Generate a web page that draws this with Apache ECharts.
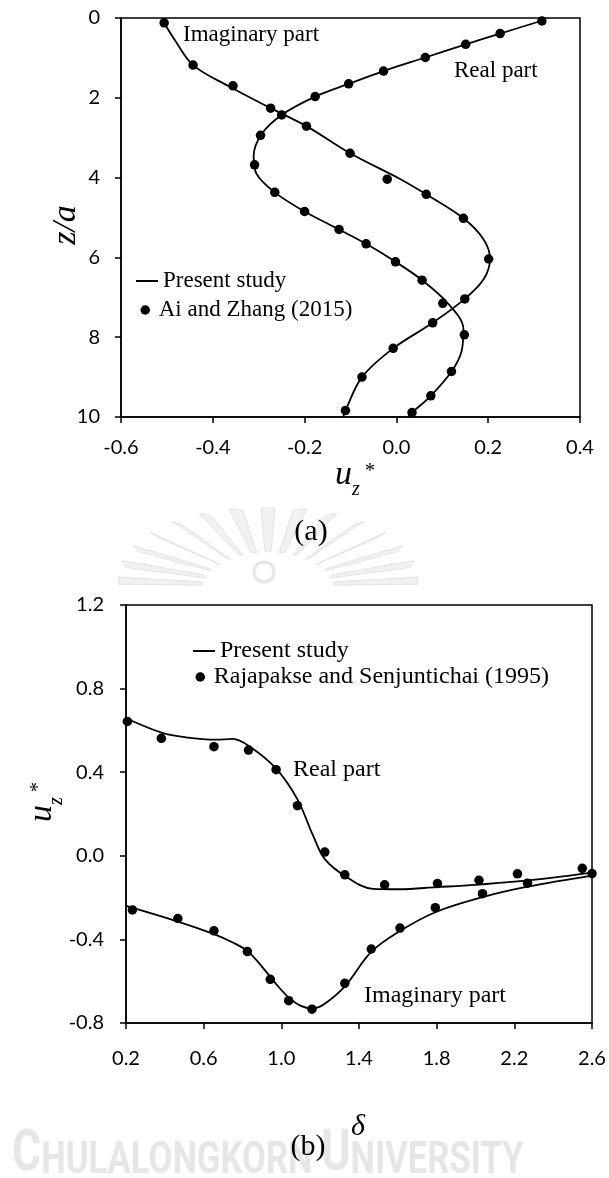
<!DOCTYPE html>
<html>
<head>
<meta charset="utf-8">
<script src="https://cdn.jsdelivr.net/npm/echarts@6/dist/echarts.min.js"></script>
<style>
  html, body { margin: 0; padding: 0; background: #fff; }
  #chart { width: 609px; height: 1178px; }
</style>
</head>
<body>
<div id="chart"></div>
<script>
// (a) vertical displacement along depth, points are [u_z*, z/a]
const aRealCurve = [
  [0.322, 0.05], [0.226, 0.39], [0.151, 0.66], [0.063, 0.99], [-0.028, 1.33],
  [-0.104, 1.65], [-0.177, 1.97], [-0.25, 2.43], [-0.293, 2.9], [-0.311, 3.45],
  [-0.305, 3.9], [-0.265, 4.37], [-0.2, 4.85], [-0.125, 5.3], [-0.066, 5.66],
  [-0.002, 6.11], [0.056, 6.57], [0.112, 7.15], [0.146, 7.8], [0.142, 8.35],
  [0.12, 8.86], [0.075, 9.47], [0.034, 9.89], [0.025, 10]
];
const aImagCurve = [
  [-0.51, 0.05], [-0.48, 0.6], [-0.443, 1.18], [-0.367, 1.7], [-0.274, 2.26],
  [-0.196, 2.71], [-0.101, 3.39], [0.009, 4.04], [0.065, 4.42], [0.146, 5.02],
  [0.19, 5.55], [0.204, 6.04], [0.19, 6.55], [0.149, 7.04], [0.079, 7.64],
  [-0.007, 8.28], [-0.075, 9.0], [-0.111, 9.84], [-0.116, 10]
];
const aRealRef = [
  [0.317, 0.075], [0.226, 0.39], [0.151, 0.66], [0.063, 0.99], [-0.028, 1.33],
  [-0.104, 1.65], [-0.177, 1.97], [-0.25, 2.43], [-0.296, 2.94], [-0.309, 3.68],
  [-0.265, 4.37], [-0.2, 4.85], [-0.125, 5.3], [-0.066, 5.66], [-0.002, 6.11],
  [0.056, 6.57], [0.101, 7.15], [0.148, 7.94], [0.12, 8.86], [0.075, 9.47], [0.034, 9.89]
];
const aImagRef = [
  [-0.506, 0.12], [-0.443, 1.18], [-0.356, 1.7], [-0.274, 2.26], [-0.196, 2.71],
  [-0.101, 3.39], [-0.02, 4.04], [0.065, 4.42], [0.146, 5.02], [0.201, 6.04],
  [0.149, 7.04], [0.079, 7.64], [-0.007, 8.28], [-0.075, 9.0], [-0.111, 9.84]
];

// (b) surface displacement against frequency, points are [delta, u_z*]
const bRealCurve = [
  [0.2, 0.658], [0.387, 0.588], [0.508, 0.567], [0.663, 0.556], [0.749, 0.559],
  [0.835, 0.524], [0.972, 0.418], [1.083, 0.27], [1.162, 0.1], [1.224, -0.016],
  [1.334, -0.1], [1.472, -0.158], [1.609, -0.16], [1.8, -0.15], [2.0, -0.139],
  [2.2, -0.124], [2.4, -0.104], [2.6, -0.08]
];
const bImagCurve = [
  [0.2, -0.24], [0.467, -0.315], [0.653, -0.375], [0.75, -0.415], [0.825, -0.455],
  [0.9, -0.53], [0.97, -0.61], [1.04, -0.68], [1.1, -0.718], [1.158, -0.73],
  [1.22, -0.71], [1.327, -0.625], [1.463, -0.46], [1.611, -0.36], [1.793, -0.27],
  [2.036, -0.198], [2.268, -0.148], [2.6, -0.095]
];
const bRealRef = [
  [0.207, 0.643], [0.382, 0.562], [0.653, 0.522], [0.831, 0.506], [0.973, 0.412],
  [1.083, 0.24], [1.224, 0.018], [1.327, -0.091], [1.532, -0.139], [1.804, -0.133],
  [2.018, -0.117], [2.216, -0.086], [2.55, -0.06]
];
const bImagRef = [
  [0.233, -0.259], [0.467, -0.3], [0.653, -0.359], [0.825, -0.458], [0.943, -0.591],
  [1.038, -0.693], [1.158, -0.734], [1.327, -0.61], [1.463, -0.446], [1.611, -0.346],
  [1.793, -0.248], [2.036, -0.181], [2.268, -0.131], [2.6, -0.085]
];

const aXTicks = [-0.6, -0.4, -0.2, 0, 0.2, 0.4];
const aYTicks = [0, 2, 4, 6, 8, 10];
const bXTicks = [0.2, 0.6, 1.0, 1.4, 1.8, 2.2, 2.6];
const bYTicks = [-0.8, -0.4, 0, 0.4, 0.8, 1.2];

const SERIF = '"Liberation Serif", "Times New Roman", serif';
const SANS = 'Lato, "Open Sans", sans-serif';

function valueAxis(grid, ticks, opts) {
  return Object.assign({
    type: 'value',
    gridIndex: grid,
    min: ticks[0],
    max: ticks[ticks.length - 1],
    axisLine: { show: true, onZero: false, lineStyle: { color: '#000', width: 1.5 } },
    axisTick: { show: true, inside: false, length: 6, customValues: ticks,
                lineStyle: { color: '#000', width: 1.5 } },
    splitLine: { show: false },
    axisLabel: { customValues: ticks, color: '#000', fontFamily: SANS, fontSize: 20 }
  }, opts);
}

function curve(name, xi, data) {
  return {
    type: 'line', name: name, xAxisIndex: xi, yAxisIndex: xi, data: data,
    smooth: 0.35, symbol: 'none', showSymbol: false, silent: true,
    lineStyle: { color: '#000', width: 1.8 }, itemStyle: { color: '#000' }, z: 3
  };
}
function dots(name, xi, data) {
  return {
    type: 'scatter', name: name, xAxisIndex: xi, yAxisIndex: xi, data: data,
    symbol: 'circle', symbolSize: 9.5, itemStyle: { color: '#000', opacity: 1 }, z: 4
  };
}
function legendItem(name, icon, left, top, w, h, size) {
  return {
    data: [{ name: name, icon: icon }], left: left, top: top, padding: 0,
    itemWidth: w, itemHeight: h, selectedMode: false,
    itemStyle: { opacity: 1 },
    textStyle: { fontFamily: SERIF, fontSize: size, color: '#000' }
  };
}
function label(text, x, y, size, align) {
  return {
    type: 'text', x: x, y: y, z: 10,
    style: { text: text, font: size + 'px ' + SERIF, fill: '#000',
             textAlign: align || 'left', textVerticalAlign: 'middle' }
  };
}
function italic(text, x, y, size, align) {
  return {
    type: 'text', x: x, y: y,
    style: { text: text, font: 'italic ' + size + 'px ' + SERIF, fill: '#000',
             textAlign: align || 'left', textVerticalAlign: 'middle' }
  };
}
// u_z with superscript star, laid out in its own frame
function uzTitle(x, y, rotation) {
  return {
    type: 'group', x: x, y: y, rotation: rotation, z: 10,
    children: [
      italic('u', 0, 0, 34),
      italic('z', 17, 14.5, 20),
      { type: 'text', x: 30, y: -3.5,
        style: { text: '*', font: '20px ' + SERIF, fill: '#000', textVerticalAlign: 'middle' } }
    ]
  };
}

// faint sunburst emblem printed behind the page
function emblem(cx, cy) {
  const parts = [];
  const n = 15;
  for (let i = 0; i < n; i++) {
    const t = (4 + i * (172 / (n - 1))) * Math.PI / 180;
    const c = Math.cos(t), s = Math.sin(t);
    const r0 = 66, r1 = 150, k = 0.52;
    const nx = -s, ny = -c;           // normal to the ray in the unsquashed frame
    const w0 = 3, w1 = 7;
    const p = (r, w, sign) => [cx + r * c + sign * w * nx, cy - (r * s + sign * w * ny) * k];
    parts.push({
      type: 'polygon', z: 0, silent: true,
      shape: { points: [p(r0, w0, 1), p(r1, w1, 1), p(r1, w1, -1), p(r0, w0, -1)] },
      style: { fill: '#f1f1f1', stroke: '#e3e3e3', lineWidth: 1 }
    });
  }
  parts.push({ type: 'circle', z: 0, silent: true, shape: { cx: cx - 4, cy: cy - 14, r: 10 },
               style: { fill: 'none', stroke: '#e6e6e6', lineWidth: 3 } });
  return parts;
}

const option = {
  backgroundColor: '#fff',
  animation: false,
  grid: [
    { left: 121, top: 18, width: 459, height: 399, show: true,
      borderColor: '#000', borderWidth: 1.5, backgroundColor: 'transparent' },
    { left: 126, top: 605, width: 466, height: 418, show: true,
      borderColor: '#000', borderWidth: 1.5, backgroundColor: 'transparent' }
  ],
  xAxis: [
    valueAxis(0, aXTicks, { interval: 0.2,
      axisLabel: { customValues: aXTicks, color: '#000', fontFamily: SANS, fontSize: 20, margin: 21,
                   formatter: v => v.toFixed(1) } }),
    valueAxis(1, bXTicks, { interval: 0.4,
      axisLabel: { customValues: bXTicks, color: '#000', fontFamily: SANS, fontSize: 20, margin: 26,
                   formatter: v => v.toFixed(1) } })
  ],
  yAxis: [
    valueAxis(0, aYTicks, { interval: 2, inverse: true,
      axisLabel: { customValues: aYTicks, color: '#000', fontFamily: SANS, fontSize: 20, margin: 21,
                   formatter: v => String(Math.round(v)) } }),
    valueAxis(1, bYTicks, { interval: 0.4,
      axisLabel: { customValues: bYTicks, color: '#000', fontFamily: SANS, fontSize: 20, margin: 22,
                   formatter: v => v.toFixed(1) } })
  ],
  legend: [
    legendItem('Present study', 'rect', 136, 269.5, 22, 2, 23),
    legendItem('Ai and Zhang (2015)', 'circle', 140.5, 298.5, 17, 9.5, 23),
    legendItem('Present study', 'rect', 193, 639, 22, 2, 24),
    legendItem('Rajapakse and Senjuntichai (1995)', 'circle', 195.5, 665, 17, 9.5, 24)
  ],
  series: [
    curve('Present study', 0, aRealCurve),
    curve('Present study', 0, aImagCurve),
    dots('Ai and Zhang (2015)', 0, aRealRef),
    dots('Ai and Zhang (2015)', 0, aImagRef),
    curve('Present study', 1, bRealCurve),
    curve('Present study', 1, bImagCurve),
    dots('Rajapakse and Senjuntichai (1995)', 1, bRealRef),
    dots('Rajapakse and Senjuntichai (1995)', 1, bImagRef)
  ],
  graphic: emblem(268, 586).concat([
    // university watermark along the foot of the page
    { type: 'text', x: 12, y: 1184, z: 0, scaleX: 0.77, silent: true,
      style: {
        text: '{big|C}{sm|HULALONGKORN}{gap| }{big|U}{sm|NIVERSITY}',
        fill: '#e4e4e4', textVerticalAlign: 'bottom',
        rich: {
          big: { font: 'bold 58px Roboto, sans-serif', fill: '#e6e6e6', verticalAlign: 'bottom' },
          sm: { font: 'bold 45px Roboto, sans-serif', fill: '#e6e6e6', verticalAlign: 'bottom' },
          gap: { font: 'bold 45px Roboto, sans-serif', verticalAlign: 'bottom' }
        }
      } },
    // curve labels
    label('Imaginary part', 183, 35, 23),
    label('Real part', 454, 70.5, 23),
    label('Real part', 293, 770, 24),
    label('Imaginary part', 364, 996, 24),
    // axis titles
    uzTitle(335, 475.5, 0),
    { type: 'text', x: 66, y: 225, rotation: Math.PI / 2, z: 10,
      style: { text: 'z/a', font: 'italic 34px ' + SERIF, fill: '#000',
               textAlign: 'center', textVerticalAlign: 'middle' } },
    uzTitle(42.5, 822, Math.PI / 2),
    { type: 'text', x: 358, y: 1127, z: 10,
      style: { text: 'δ', font: 'italic 30px ' + SERIF, fill: '#000',
               textAlign: 'center', textVerticalAlign: 'middle' } },
    // panel captions
    label('(a)', 311, 532, 30, 'center'),
    label('(b)', 308, 1147, 30, 'center')
  ])
};

const chart = echarts.init(document.getElementById('chart'), null, { renderer: 'canvas' });
chart.setOption(option);
</script>
</body>
</html>
